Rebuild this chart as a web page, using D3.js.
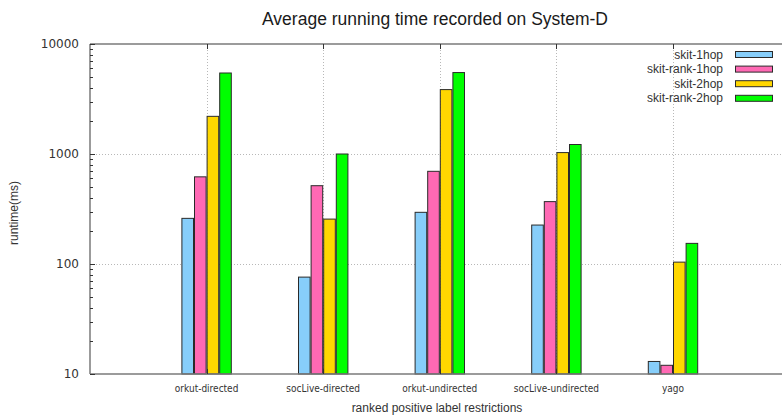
<!DOCTYPE html>
<html>
<head>
<meta charset="utf-8">
<script src="https://cdn.jsdelivr.net/npm/d3@7"></script>
<style>
  body { margin:0; background:#fff; }
  svg { display:block; font-family:"Liberation Sans", Arial, sans-serif; }
</style>
</head>
<body>
<div id="plot"></div>
<script>
// data
var categories = ['orkut-directed','socLive-directed','orkut-undirected','socLive-undirected','yago'];
var seriesNames = ['skit-1hop','skit-rank-1hop','skit-2hop','skit-rank-2hop'];
var skit1hop     = [260, 76, 295, 226, 13];
var skitRank1hop = [620, 515, 696, 369, 12];
var skit2hop     = [2200, 256, 3850, 1030, 104];
var skitRank2hop = [5450, 1000, 5500, 1220, 154];
var yTicks = [10, 100, 1000, 10000];
var colors = ['#87cefa','#ff69b4','#ffd700','#00ff00'];

var series = [skit1hop, skitRank1hop, skit2hop, skitRank2hop];

var W = 782, H = 419;
var svg = d3.select('#plot').append('svg').attr('width',W).attr('height',H);

// x: group index 1..5 within 0..6, plot continues past right edge
var x = d3.scaleLinear().domain([0,6]).range([90, 789.6]);
var y = d3.scaleLog().domain([10,10000]).range([374, 44]);

// grid
var grid = svg.append('g').attr('stroke','#b8b8b8').attr('stroke-dasharray','1,2').attr('stroke-width',1);
[100,1000].forEach(function(v){
  grid.append('line').attr('x1',90).attr('x2',W).attr('y1',y(v)+0.5).attr('y2',y(v)+0.5);
});
categories.forEach(function(c,i){
  grid.append('line').attr('x1',Math.round(x(i+1))+0.5).attr('x2',Math.round(x(i+1))+0.5).attr('y1',44).attr('y2',374);
});

// bars
var bw = 12.6;
series.forEach(function(s,j){
  svg.append('g').selectAll('rect').data(s).enter().append('rect')
    .attr('x', function(d,i){ return x(i+1) - 2*bw + j*bw + 0.5; })
    .attr('y', function(d){ return y(d); })
    .attr('width', bw - 1)
    .attr('height', function(d){ return 374 - y(d); })
    .attr('fill', colors[j])
    .attr('stroke','#2a2a2a')
    .attr('stroke-width',1);
});

// frame
var frame = svg.append('g').attr('stroke','#7a7a7a').attr('stroke-width',1.5);
frame.append('line').attr('x1',90).attr('x2',W).attr('y1',44).attr('y2',44);
frame.append('line').attr('x1',90).attr('x2',W).attr('y1',374).attr('y2',374);
frame.append('line').attr('x1',90).attr('x2',90).attr('y1',44).attr('y2',374);

// y axis ticks (major + minor, inward)
var ticks = svg.append('g').attr('stroke','#333').attr('stroke-width',1);
for (var dec = 10; dec < 10000; dec *= 10) {
  for (var k = 2; k <= 9; k++) {
    var yy = Math.round(y(dec*k))+0.5;
    ticks.append('line').attr('x1',90).attr('x2',93).attr('y1',yy).attr('y2',yy);
  }
}
yTicks.forEach(function(v){
  var yy = Math.round(y(v))+0.5;
  ticks.append('line').attr('x1',90).attr('x2',95).attr('y1',yy).attr('y2',yy);
});
categories.forEach(function(c,i){
  var xx = Math.round(x(i+1))+0.5;
  ticks.append('line').attr('x1',xx).attr('x2',xx).attr('y1',44).attr('y2',49);
  ticks.append('line').attr('x1',xx).attr('x2',xx).attr('y1',374).attr('y2',369);
});

// y tick labels
svg.append('g').selectAll('text').data(yTicks).enter().append('text')
  .attr('x',79).attr('y',function(d){ return y(d)+4; })
  .attr('text-anchor','end').attr('font-size',12).attr('fill','#333')
  .attr('font-family','"DejaVu Sans", sans-serif')
  .text(function(d){ return d; });

// x tick labels
svg.append('g').selectAll('text').data(categories).enter().append('text')
  .attr('x',function(d,i){ return x(i+1); }).attr('y',392)
  .attr('text-anchor','middle').attr('font-size',10).attr('fill','#333')
  .attr('font-family','"DejaVu Sans Condensed", "DejaVu Sans", sans-serif')
  .attr('font-stretch','condensed')
  .text(function(d){ return d; });

// axis titles
svg.append('text').attr('x',437).attr('y',412).attr('text-anchor','middle')
  .attr('font-size',12).attr('fill','#333').text('ranked positive label restrictions');
svg.append('text').attr('transform','translate(18,213) rotate(-90)').attr('text-anchor','middle')
  .attr('font-size',12).attr('fill','#333').text('runtime(ms)');
svg.append('text').attr('x',435).attr('y',25).attr('text-anchor','middle')
  .attr('font-size',17.5).attr('fill','#1a1a1a').text('Average running time recorded on System-D');

// legend
var leg = svg.append('g');
seriesNames.forEach(function(n,j){
  var cy = 54.5 + j*14.6;
  leg.append('text').attr('x',723).attr('y',cy+4).attr('text-anchor','end')
    .attr('font-size',12).attr('fill','#333').text(n);
  leg.append('rect').attr('x',735.5).attr('y',cy-3).attr('width',37).attr('height',6)
    .attr('fill',colors[j]).attr('stroke','#2a2a2a').attr('stroke-width',1);
});
</script>
</body>
</html>
